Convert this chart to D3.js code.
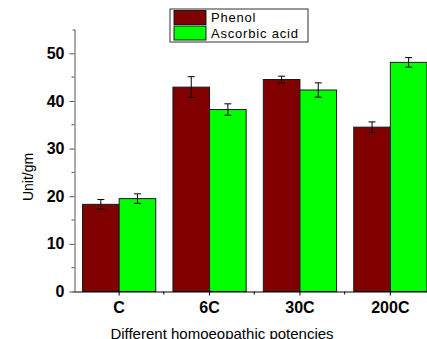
<!DOCTYPE html>
<html lang="en">
<head>
<meta charset="UTF-8">
<script src="https://d3js.org/d3.v7.min.js"></script>
<title>Bar chart</title>
<style>
  * { margin: 0; padding: 0; }
  body { background: #fff; }
  svg { display: block; font-family: "Liberation Sans", Arial, sans-serif; }
</style>
</head>
<body>
<div id="chart"></div>
<script>
  const w = 427;
  const h = 339;

  // data
  const categories = ['C', '6C', '30C', '200C'];
  const seriesNames = ['Phenol', 'Ascorbic acid'];
  const phenol = [18.3, 42.9, 44.5, 34.5];
  const phenolErr = [1.0, 2.2, 0.7, 1.1];
  const ascorbic = [19.5, 38.2, 42.3, 48.1];
  const ascorbicErr = [1.0, 1.2, 1.5, 1.0];
  const yTicks = [0, 10, 20, 30, 40, 50];
  const yMinorTicks = [5, 15, 25, 35, 45];
  const colors = ['#800000', '#00ff00'];

  const rows = categories.map((c, i) => ({
    cat: c,
    vals: [
      { s: 0, v: phenol[i], e: phenolErr[i] },
      { s: 1, v: ascorbic[i], e: ascorbicErr[i] }
    ]
  }));

  const left = 74.5, bottom = 291.5;

  const svg = d3.select('#chart').append('svg')
    .attr('width', w)
    .attr('height', h);

  const y = d3.scaleLinear().domain([0, 55]).range([bottom, 29.5]);

  const x0 = d3.scaleBand()
    .domain(categories)
    .range([left, 435])
    .paddingInner(0.19)
    .paddingOuter(0.089);

  const x1 = d3.scaleBand()
    .domain([0, 1])
    .range([0, x0.bandwidth()]);

  // bars
  const groups = svg.append('g')
    .selectAll('g')
    .data(rows)
    .enter()
    .append('g')
    .attr('transform', d => 'translate(' + x0(d.cat) + ',0)');

  groups.selectAll('rect')
    .data(d => d.vals)
    .enter()
    .append('rect')
    .attr('x', d => x1(d.s))
    .attr('y', d => y(d.v))
    .attr('width', x1.bandwidth())
    .attr('height', d => bottom - y(d.v))
    .attr('fill', d => colors[d.s])
    .attr('stroke', '#1a1a1a')
    .attr('stroke-width', 1);

  // error bars
  const err = groups.selectAll('g.err')
    .data(d => d.vals)
    .enter()
    .append('g')
    .attr('class', 'err')
    .attr('stroke', '#000')
    .attr('stroke-width', 1);

  const cx = d => x1(d.s) + x1.bandwidth() / 2;
  err.append('line')
    .attr('x1', cx).attr('x2', cx)
    .attr('y1', d => y(d.v + d.e)).attr('y2', d => y(d.v - d.e));
  err.append('line')
    .attr('x1', d => cx(d) - 3.5).attr('x2', d => cx(d) + 3.5)
    .attr('y1', d => y(d.v + d.e)).attr('y2', d => y(d.v + d.e));
  err.append('line')
    .attr('x1', d => cx(d) - 3.5).attr('x2', d => cx(d) + 3.5)
    .attr('y1', d => y(d.v - d.e)).attr('y2', d => y(d.v - d.e));

  // y axis
  const yAxis = svg.append('g')
    .attr('transform', 'translate(' + left + ',0)')
    .call(d3.axisLeft(y).tickValues(yTicks).tickSize(5).tickPadding(5).tickSizeOuter(2));
  yAxis.select('.domain').attr('stroke', '#555');
  yAxis.selectAll('.tick line').attr('stroke', '#555');
  yAxis.selectAll('text')
    .attr('fill', '#000')
    .style('font-size', '16px')
    .style('font-weight', 'bold');

  svg.append('g')
    .attr('transform', 'translate(' + left + ',0)')
    .selectAll('line')
    .data(yMinorTicks)
    .enter()
    .append('line')
    .attr('x1', -3).attr('x2', 0)
    .attr('y1', d => y(d)).attr('y2', d => y(d))
    .attr('stroke', '#555');

  // x axis
  const xAxis = svg.append('g')
    .attr('transform', 'translate(0,' + bottom + ')')
    .call(d3.axisBottom(x0).tickSize(4).tickSizeOuter(0).tickPadding(6));
  xAxis.select('.domain').attr('stroke', '#000');
  xAxis.selectAll('text')
    .attr('fill', '#000')
    .style('font-size', '16px')
    .style('font-weight', 'bold');

  svg.append('g')
    .attr('transform', 'translate(0,' + bottom + ')')
    .selectAll('line')
    .data(categories.slice(1))
    .enter()
    .append('line')
    .attr('x1', d => x0(d) - x0.step() * 0.095 - 0.5)
    .attr('x2', d => x0(d) - x0.step() * 0.095 - 0.5)
    .attr('y1', 0).attr('y2', 3)
    .attr('stroke', '#000');

  // axis titles
  svg.append('text')
    .attr('transform', 'translate(33,177) rotate(-90)')
    .attr('text-anchor', 'middle')
    .style('font-size', '14px')
    .text('Unit/gm');

  svg.append('text')
    .attr('x', 222)
    .attr('y', 339)
    .attr('text-anchor', 'middle')
    .style('font-size', '15px')
    .text('Different homoeopathic potencies');

  // legend
  const legend = svg.append('g').attr('transform', 'translate(170,9)');
  legend.append('rect')
    .attr('width', 138).attr('height', 33)
    .attr('fill', '#fff').attr('stroke', '#333');
  const li = legend.selectAll('g.item')
    .data(seriesNames)
    .enter()
    .append('g')
    .attr('transform', (d, i) => 'translate(4,' + (1.5 + i * 15.5) + ')');
  li.append('rect')
    .attr('width', 32).attr('height', 14)
    .attr('fill', (d, i) => colors[i])
    .attr('stroke', '#1a1a1a');
  li.append('text')
    .attr('x', 37).attr('y', 11.5)
    .style('font-size', '13px')
    .style('letter-spacing', '0.8px')
    .text(d => d);
</script>
</body>
</html>
